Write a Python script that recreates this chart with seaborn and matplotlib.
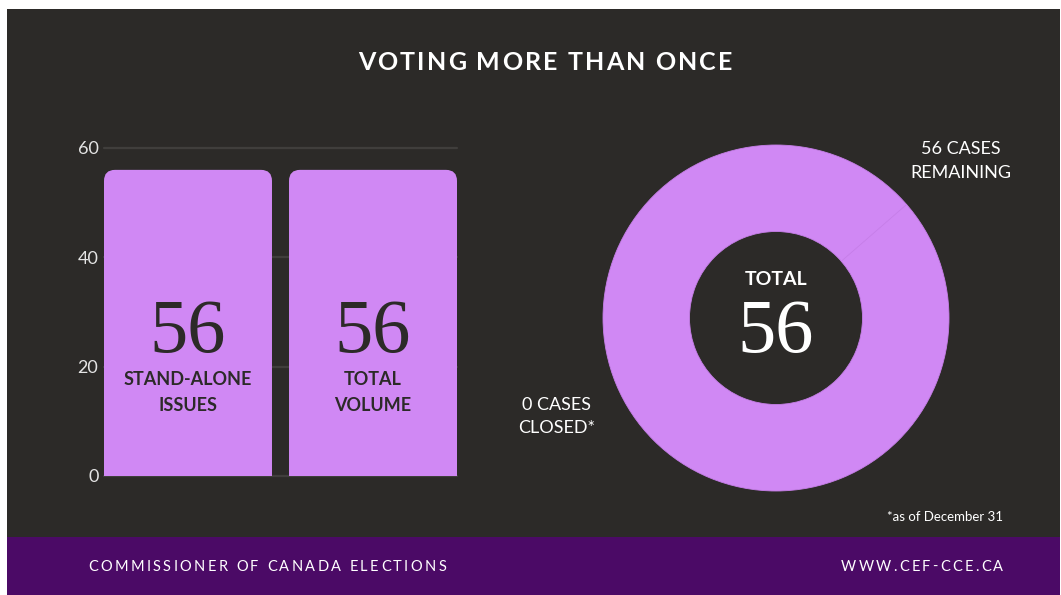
import numpy as np
import pandas as pd
import matplotlib
matplotlib.use("Agg")
import matplotlib.pyplot as plt
from matplotlib.patches import Rectangle, FancyBboxPatch
from matplotlib.font_manager import FontProperties
from matplotlib.textpath import TextToPath
import seaborn as sns

# ---- data ----
bar_labels = ["STAND-ALONE\nISSUES", "TOTAL\nVOLUME"]
bar_values = [56, 56]
y_ticks = [0, 20, 40, 60]
case_labels = ["CASES\nREMAINING", "CASES\nCLOSED*"]
case_values = [56, 0]

title = "VOTING MORE THAN ONCE"
footer_left = "COMMISSIONER OF CANADA ELECTIONS"
footer_right = "WWW.CEF-CCE.CA"
note = "*as of December 31"

# ---- style ----
W, H, DPI = 1061, 595, 100
DARK = "#2c2a28"
BAND = "#4b0a66"
LILAC = "#d088f4"
GRID = "#403e3c"
SANS = ["Lato", "DejaVu Sans"]
SERIF = ["Liberation Serif", "DejaVu Serif"]

sns.set_style("dark")
plt.rcParams["font.family"] = SANS

fig = plt.figure(figsize=(W / DPI, H / DPI), dpi=DPI, facecolor="white")


def fx(px):
    return px / W


def fy(py):
    return 1 - py / H


# background panels
fig.patches.append(Rectangle((fx(7), fy(537)), fx(1060) - fx(7), fy(9) - fy(537),
                             transform=fig.transFigure, fc=DARK, ec="none", zorder=-10))
fig.patches.append(Rectangle((fx(7), 0), fx(1060) - fx(7), fy(537),
                             transform=fig.transFigure, fc=BAND, ec="none", zorder=-10))

# ---- letter-spaced text helper ----
_t2p = TextToPath()


def _adv(s, prop):
    if not s:
        return 0.0
    w1 = _t2p.get_text_width_height_descent(s + "H", prop, ismath=False)[0]
    w0 = _t2p.get_text_width_height_descent("H", prop, ismath=False)[0]
    return (w1 - w0) * DPI / 72.0


def spaced_text(x_px, y_px, s, width_px, size, weight="normal", color="white", align="center"):
    prop = FontProperties(family=SANS, size=size, weight=weight)
    base = _adv(s, prop)
    track = (width_px - base) / max(len(s) - 1, 1)
    total = base + track * (len(s) - 1)
    if align == "center":
        x0 = x_px - total / 2
    elif align == "left":
        x0 = x_px
    else:
        x0 = x_px - total
    for i, ch in enumerate(s):
        if ch == " ":
            continue
        xi = x0 + _adv(s[:i], prop) + i * track
        fig.text(fx(xi), fy(y_px), ch, fontproperties=prop, color=color,
                 ha="left", va="center", zorder=5)


spaced_text(545, 62, title, 374, 18, weight="bold")
spaced_text(88, 567, footer_left, 358, 10.5, align="left")
spaced_text(841, 567, footer_right, 162, 10.5, align="left")
fig.text(fx(1003), fy(517), note, color="white", fontsize=9.5, ha="right", va="center",
         family=SANS)

# ---- bar chart ----
ax_l, ax_r, ax_t, ax_b = 104, 457, 148, 476
ax = fig.add_axes([fx(ax_l), fy(ax_b), fx(ax_r) - fx(ax_l), fy(ax_t) - fy(ax_b)])
ax.set_facecolor("none")
ax.set_zorder(2)

bw = 0.908
df = pd.DataFrame({"kind": bar_labels, "count": bar_values})
sns.barplot(data=df, x="kind", y="count", color=LILAC, width=bw, saturation=1,
            ax=ax, zorder=2)
ax.set_xlim(-bw / 2, len(bar_values) - 1 + bw / 2)
ax.set_ylim(0, 60)
ax.set_yticks(y_ticks)
ax.set_xticks([])
ax.set_xlabel("")
ax.set_ylabel("")
for sp in ax.spines.values():
    sp.set_visible(False)
ax.grid(False)
ax.set_axisbelow(True)
for t in y_ticks:
    ax.axhline(t, color=GRID, lw=1.6, zorder=0.5, clip_on=False)
ax.tick_params(axis="y", colors="#e4e4e4", labelsize=13, length=0, pad=4)

# rounded tops on the bars
px_per_x = (ax_r - ax_l) / (ax.get_xlim()[1] - ax.get_xlim()[0])
px_per_y = (ax_b - ax_t) / (ax.get_ylim()[1] - ax.get_ylim()[0])
r_px = 11
r_x = r_px / px_per_x
aspect = (r_px / px_per_y) / r_x
for p in list(ax.patches):
    x, w, h = p.get_x(), p.get_width(), p.get_height()
    p.set_visible(False)
    ax.add_patch(FancyBboxPatch((x, -5), w, h + 5,
                                boxstyle=f"round,pad=0,rounding_size={r_x}",
                                mutation_aspect=aspect, fc=LILAC, ec="none",
                                zorder=2, clip_on=True))
    xc = x + w / 2
    ax.text(xc, 0.435, f"{int(round(h))}", transform=ax.get_xaxis_transform(),
            ha="center", va="center", fontsize=55, family=SERIF, color=DARK, zorder=3)

for i, lab in enumerate(bar_labels):
    ax.text(i, 0.255, lab, transform=ax.get_xaxis_transform(), ha="center",
            va="center", fontsize=13, fontweight="bold", color=DARK,
            linespacing=1.6, zorder=3)

# ---- donut ----
cx, cy, R = 776, 318, 173
ax2 = fig.add_axes([fx(cx - R), fy(cy + R), fx(2 * R), fy(cy - R) - fy(cy + R)])
ax2.set_zorder(2)
ax2.pie(case_values, startangle=41, colors=[LILAC, LILAC], radius=1,
        wedgeprops=dict(width=0.5, edgecolor="#c67ee8", linewidth=0.6))
ax2.set_xlim(-1, 1)
ax2.set_ylim(-1, 1)
ax2.set_aspect("equal")
ax2.axis("off")

ax2.text(0, 0.22, "TOTAL", ha="center", va="center", color="white",
         fontsize=14, fontweight="bold")
ax2.text(0, -0.09, f"{sum(case_values)}", ha="center", va="center", color="white",
         fontsize=55, family=SERIF)

fig.text(fx(961), fy(161), f"{case_values[0]} {case_labels[0]}", color="white",
         fontsize=13, ha="center", va="center", linespacing=1.6)
fig.text(fx(557), fy(416.5), f"{case_values[1]} {case_labels[1]}", color="white",
         fontsize=13, ha="center", va="center", linespacing=1.6)

fig.savefig("out.png", dpi=DPI, facecolor="white")
